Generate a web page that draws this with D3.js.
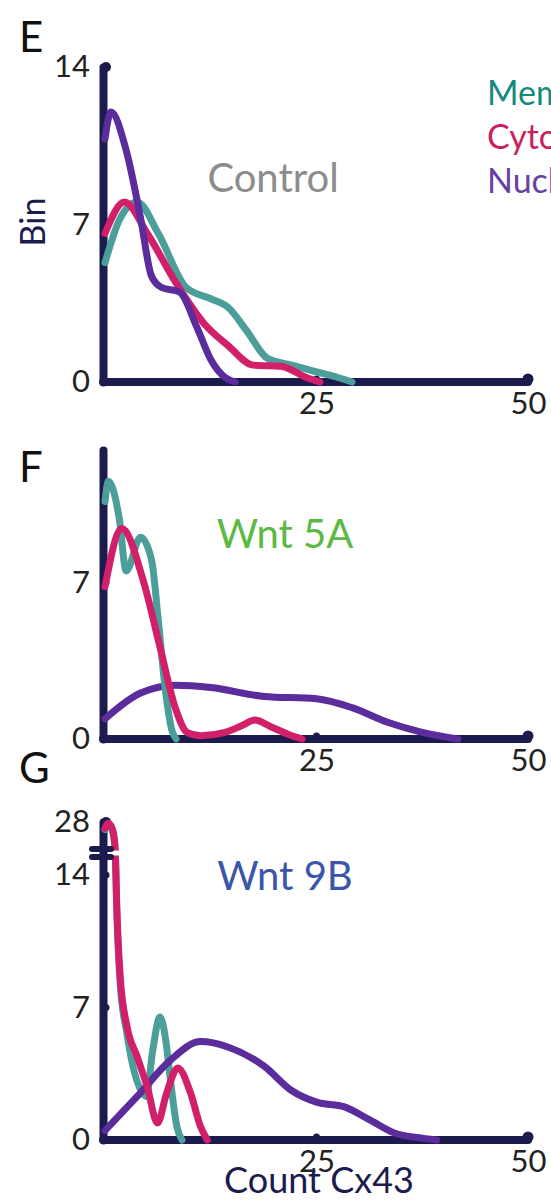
<!DOCTYPE html>
<html>
<head>
<meta charset="utf-8">
<script src="https://cdn.jsdelivr.net/npm/d3@7"></script>
<style>
  body { margin: 0; background: #fff; }
  svg { display: block; font-family: Lato, "Open Sans", sans-serif; }
</style>
</head>
<body>
<div id="chart"></div>
<script>
// values: [count Cx43, bin]
const xTicks = [25, 50];
const seriesNames = ["Membrane", "Cytoplasm", "Nucleus"];
const panelLetters = ["E", "F", "G"];
const panelTitles = ["Control", "Wnt 5A", "Wnt 9B"];

const eMem = [[0,5.3],[1.7,7.2],[3.8,8.0],[6.3,6.6],[9.6,4.2],[12.5,3.7],[14.6,3.3],[16.7,2.3],[19.2,1.05],[22.1,0.75],[25,0.45],[27.5,0.2],[29.2,0]];
const eCyto = [[0,6.6],[2.3,8.0],[5.0,6.6],[8.4,4.4],[11.7,2.6],[14.6,1.6],[17.5,0.75],[20.8,0.7],[23.8,0.2],[25.4,0]];
const eNuc = [[0,10.8],[0.7,12.0],[2.5,10.3],[4.2,7.3],[5.5,4.7],[6.7,4.2],[8.8,4.0],[10.9,2.4],[12.5,1.0],[14.2,0.2],[15.4,0]];

const fMem = [[0,10.6],[0.4,11.5],[1.7,9.8],[2.5,7.5],[4.2,9.0],[5.5,8.0],[6.3,5.3],[7.1,2.3],[7.9,0.4],[8.4,0]];
const fCyto = [[0,6.8],[2.0,9.4],[4.5,7.1],[6.5,4.1],[8.3,1.4],[9.7,0.3],[11.3,0.15],[14.2,0.3],[16.2,0.6],[17.7,0.85],[19.6,0.55],[21.7,0.2],[23.3,0]];
const fNuc = [[0,0.9],[4.2,2.05],[8.4,2.4],[12.5,2.3],[18.8,1.9],[25,1.8],[29.2,1.4],[33.4,0.75],[37.5,0.3],[41.7,0]];

const gMem = [[0,26],[0.4,27.3],[0.9,25.5],[1.2,20.5],[1.4,12],[1.8,8.2],[2.6,5.6],[3.2,4.1],[4.4,2.5],[4.9,2.3],[5.6,4.6],[6.5,6.5],[7.2,5.2],[7.7,3.3],[8.5,0.7],[9.1,0]];
const gCyto = [[0,26.3],[0.4,27.7],[0.9,26],[1.2,21],[1.4,12.2],[1.8,8.6],[2.6,6.0],[3.8,4.4],[5.0,2.8],[6.2,0.9],[7.3,2.5],[8.6,3.8],[10.1,2.5],[11.3,0.7],[12.1,0]];
const gNuc = [[0,0.5],[3.8,2.3],[7.7,4.2],[11.3,5.2],[14.6,4.9],[18.8,3.9],[22.1,2.6],[25,2.0],[28.3,1.75],[31.3,1.06],[34.2,0.37],[37.5,0.1],[39.2,0]];

const colors = { mem: "#4b9e99", cyto: "#d21f6a", nuc: "#5a2c9c" };
const legendColors = ["#15897f", "#c81f5e", "#6442a2"];
const axisColor = "#1c1b4d";

const W = 551, H = 1201;
const svg = d3.select("#chart").append("svg")
  .attr("width", W).attr("height", H)
  .attr("xmlns", "http://www.w3.org/2000/svg");

const x = d3.scaleLinear().domain([0, 50]).range([105, 528]);

const panels = [
  { y: d3.scaleLinear().domain([0, 14]).range([382, 67]), yTicks: [0, 7, 14],
    series: [[eMem, colors.mem], [eCyto, colors.cyto], [eNuc, colors.nuc]],
    letterY: 52, titleX: 273, titleY: 192, titleColor: "#8c8c8c" },
  { y: d3.scaleLinear().domain([0, 12.9]).range([739, 450]), yTicks: [0, 7],
    series: [[fNuc, colors.nuc], [fMem, colors.mem], [fCyto, colors.cyto]],
    letterY: 482, titleX: 285, titleY: 548, titleColor: "#5cb944" },
  { y: d3.scaleLinear().domain([0, 14, 28]).range([1140, 875, 822]), yTicks: [0, 7, 14, 28],
    series: [[gMem, colors.mem], [gNuc, colors.nuc], [gCyto, colors.cyto]],
    letterY: 783, titleX: 285, titleY: 890, titleColor: "#3b55a8" }
];

panels.forEach((p, i) => {
  const g = svg.append("g");
  const y = p.y;
  const x0 = x.range()[0] - 2;
  const y0 = y(0);

  // y axis
  const yAx = g.append("g").attr("transform", `translate(${x0},0)`)
    .call(d3.axisLeft(y).tickValues(p.yTicks).tickSize(0).tickSizeOuter(0).tickPadding(13));
  // x axis
  const xAx = g.append("g").attr("transform", `translate(0,${y0})`)
    .call(d3.axisBottom(x).tickValues(xTicks).tickSize(0).tickSizeOuter(0).tickPadding(10));
  xAx.select(".domain").attr("d", `M${x0},0H${x.range()[1]}`);

  [yAx, xAx].forEach(a => {
    a.select(".domain").attr("stroke", axisColor).attr("stroke-width", 8)
      .attr("stroke-linecap", "round");
    a.selectAll("text").attr("fill", "#222").style("font-size", "31px")
      .style("font-family", "Lato, 'Open Sans', sans-serif");
  });

  // tick dots
  p.yTicks.filter(t => t > 0).forEach(t => {
    g.append("circle").attr("cx", x0 + 3).attr("cy", y(t)).attr("r", t === y.domain()[y.domain().length - 1] ? 5 : 3.5)
      .attr("fill", axisColor);
  });
  xTicks.forEach(t => {
    g.append("circle").attr("cx", x(t)).attr("cy", y0 - 3).attr("r", t === 50 ? 5.5 : 3.5)
      .attr("fill", axisColor);
  });

  // curves
  const line = d3.line().x(d => x(d[0])).y(d => y(d[1])).curve(d3.curveMonotoneX);
  p.series.forEach(([data, c]) => {
    g.append("path").attr("d", line(data)).attr("fill", "none")
      .attr("stroke", c).attr("stroke-width", 7)
      .attr("stroke-linejoin", "round").attr("stroke-linecap", "round");
  });

  // panel letter and title
  g.append("text").attr("x", 19).attr("y", p.letterY).text(panelLetters[i])
    .attr("fill", "#111").style("font-size", "42px");
  g.append("text").attr("x", p.titleX).attr("y", p.titleY).attr("text-anchor", "middle")
    .text(panelTitles[i]).attr("fill", p.titleColor).style("font-size", "40px");

  if (i === 2) {
    // axis break between 14 and 28
    const yb = 853;
    g.append("rect").attr("x", x0 + 5).attr("y", yb - 2.5).attr("width", 22).attr("height", 5)
      .attr("fill", "#fff");
    [yb - 4, yb + 4].forEach(yy => {
      g.append("line").attr("x1", x0 - 11).attr("x2", x0 + 8).attr("y1", yy).attr("y2", yy)
        .attr("stroke", axisColor).attr("stroke-width", 6).attr("stroke-linecap", "round");
    });
  }
});

// y axis title
svg.append("text").attr("transform", "translate(45,222) rotate(-90)")
  .attr("text-anchor", "middle").text("Bin")
  .attr("fill", axisColor).style("font-size", "34px");

// x axis title
svg.append("text").attr("x", 319).attr("y", 1193).attr("text-anchor", "middle")
  .text("Count Cx43").attr("fill", axisColor).style("font-size", "36px");

// legend (cut by the right edge as in the figure)
seriesNames.forEach((n, i) => {
  svg.append("text").attr("x", 487).attr("y", 105 + i * 44).text(n)
    .attr("fill", legendColors[i]).style("font-size", "34px");
});
</script>
</body>
</html>
